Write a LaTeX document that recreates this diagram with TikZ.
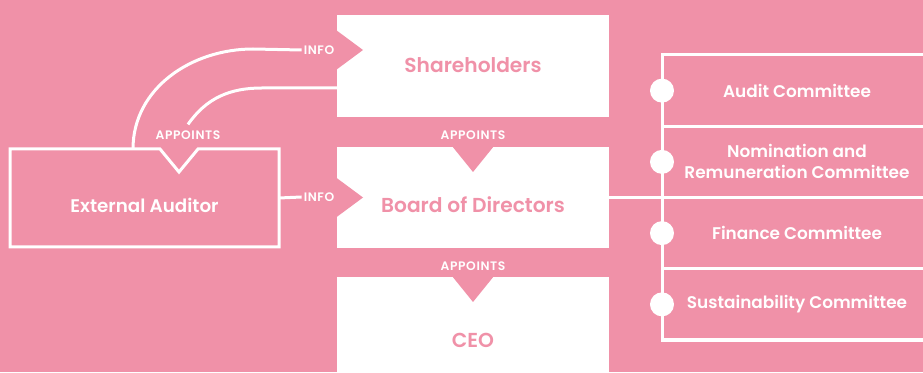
\documentclass[tikz,border=0pt]{standalone}
\usepackage{fontspec}
\setmainfont{Poppins}[UprightFont=* SemiBold]
\usetikzlibrary{positioning}

\definecolor{rose}{RGB}{240,145,168}

\begin{document}
\begin{tikzpicture}[x=1pt,y=1pt,
  wline/.style={draw=white,line width=3pt},
  panel/.style={fill=white,minimum width=272pt,outer sep=0pt,inner sep=0pt},
  paneltext/.style={text=rose,font=\fontsize{20.2}{22}\selectfont,anchor=base},
  committee/.style={draw=white,line width=3pt,minimum width=270pt,minimum height=71.25pt,
    outer sep=0pt,inner sep=0pt,text=white,align=center,font=\fontsize{16.9}{21}\selectfont},
  tag/.style={text=white,font=\fontsize{12.3}{13}\selectfont\addfontfeature{LetterSpace=5},inner sep=2pt},
  dot/.style={circle,fill=white,minimum size=24pt,inner sep=0pt}]

\fill[rose] (0,0) rectangle (923,372);
\useasboundingbox (0,0) rectangle (923,372);

% main column
\node[panel,minimum height=102pt] (share) at (473,306) {};
\node[panel,minimum height=101pt] (board) at (473,174.5) {};
\node[panel,minimum height=102pt] (ceo) at (473,44) {};

% arrow notches cut into the panels
\fill[rose] ([xshift=-1pt,yshift=36pt]share.west) -- ++(27,-20) -- ++(-27,-20) -- cycle;
\fill[rose] ([xshift=-1pt,yshift=20pt]board.west) -- ++(27,-20) -- ++(-27,-20) -- cycle;
\fill[rose] ([xshift=-21pt,yshift=1pt]board.north) -- ++(21,-26) -- ++(21,26) -- cycle;
\fill[rose] ([xshift=-21pt,yshift=1pt]ceo.north) -- ++(21,-26) -- ++(21,26) -- cycle;

\node[paneltext] (share-txt) at ([yshift=-7pt]share.center) {Shareholders};
\node[paneltext] (board-txt) at ([yshift=-15.5pt]board.center) {Board of Directors};
\node[paneltext] (ceo-txt) at ([yshift=-19pt]ceo.center) {CEO};

\node[tag] (app2) at (473,237) {APPOINTS};
\node[tag] (app3) at (473,106) {APPOINTS};

% external auditor
\node[inner sep=0pt,outer sep=0pt,minimum width=269pt,minimum height=98pt] (aud) at (144.5,174) {};
\draw[wline] (aud.north west) -- ++(150,0) -- ++(19,-23) -- ++(19,23) -- (aud.north east)
  -- (aud.south east) -- (aud.south west) -- cycle;
\node[paneltext,text=white,font=\fontsize{18.3}{20}\selectfont] (aud-txt) at ([yshift=-15pt]aud.center) {External Auditor};

\node[tag] (app1) at (188,237) {APPOINTS};
\node[tag] (info1) at (319,322) {INFO};
\node[tag] (info2) at (319,175) {INFO};

\draw[wline] ([xshift=123pt]aud.north west) to[out=90,in=180] ++(120,100) -- (info1.west);
\draw[wline] ([yshift=-22pt]share.west) -- ++(-75,0) to[out=180,in=55] ([yshift=4pt]app1.north);
\draw[wline] (aud.east) -- (info2.west);

% committees
\node[committee,anchor=north west] (audit) at (662,317) {Audit Committee};
\node[committee,below=0pt of audit] (nomination) {Nomination and\\Remuneration Committee};
\node[committee,below=0pt of nomination] (finance) {Finance Committee};
\node[committee,below=0pt of finance] (sustain) {Sustainability Committee};

\foreach \c in {audit,nomination,finance,sustain}
  \node[dot] (\c-dot) at (\c.west) {};

\draw[wline] (board.east) -- (board.east -| nomination.south west);
\end{tikzpicture}
\end{document}
